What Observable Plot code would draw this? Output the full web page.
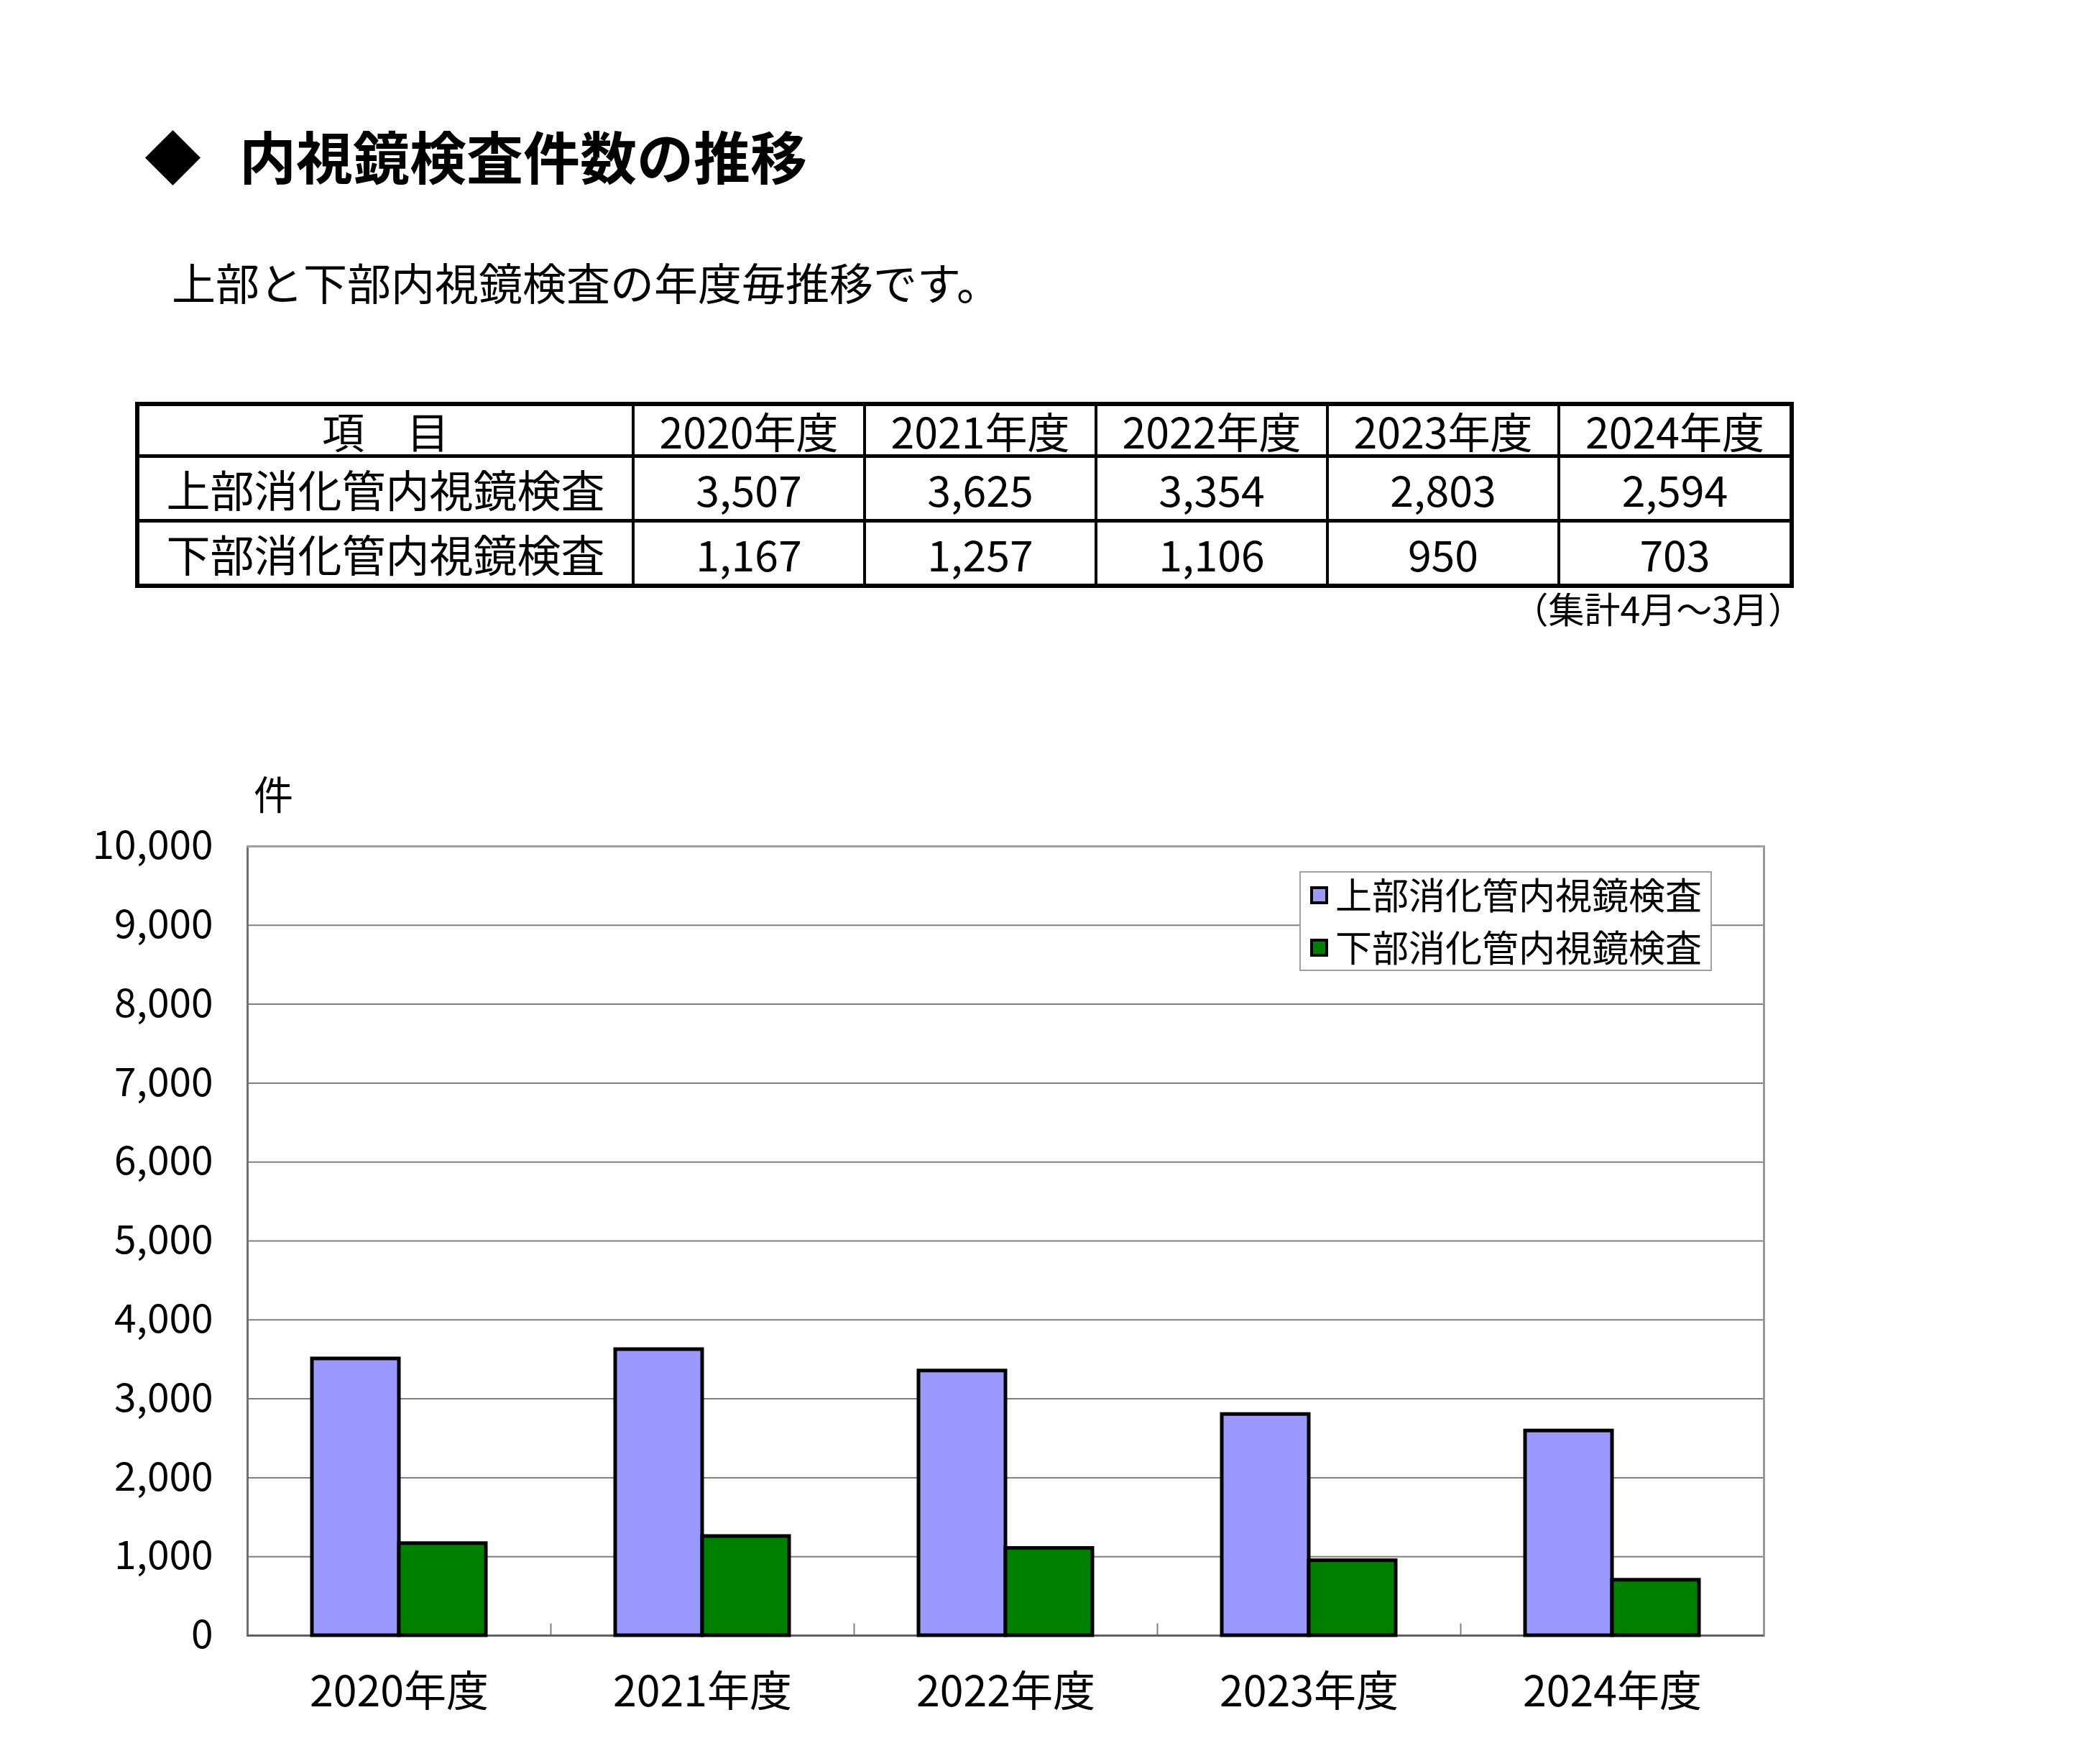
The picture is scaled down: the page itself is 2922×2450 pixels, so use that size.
<!DOCTYPE html>
<html><head><meta charset="utf-8">
<script src="https://cdn.jsdelivr.net/npm/d3@7"></script>
<script src="https://cdn.jsdelivr.net/npm/@observablehq/plot@0.6"></script>
<style>
html,body{margin:0;padding:0;background:#fff;}
body{width:2922px;height:2450px;position:relative;overflow:hidden;font-family:"Noto Sans CJK JP","Noto Sans",sans-serif;color:#000;}
.abs{position:absolute;white-space:nowrap;line-height:1;z-index:2;}
#diamond{left:201px;top:176px;font-size:79px;}
#title{left:333px;top:176px;font-size:79px;font-weight:bold;}
#subtitle{left:239px;top:361px;font-size:61px;}
#tbl{position:absolute;left:188px;top:559px;width:2302px;table-layout:fixed;border-collapse:collapse;border:6px solid #000;font-size:59px;}
#tbl td{border:4px solid #000;border-top-width:5px;border-bottom-width:5px;text-align:center;vertical-align:middle;padding:0;line-height:1;white-space:nowrap;overflow:visible;}
#tbl td.lab{font-size:61px;}
#note{right:412px;top:820px;font-size:50px;}
#unit{left:353px;top:1075px;font-size:55px;}
#chart{position:absolute;left:0;top:1090px;z-index:1;}
#legend{position:absolute;left:1808px;top:1212px;width:574px;height:139px;box-sizing:border-box;border:2px solid #a0a0a0;background:#fff;z-index:3;}
.sw{position:absolute;width:25px;height:25px;box-sizing:border-box;border:4px solid #000;}
.lt{position:absolute;font-size:51px;line-height:1;white-space:nowrap;}
</style>
</head><body>
<div class="abs" id="diamond">◆</div>
<div class="abs" id="title">内視鏡検査件数の推移</div>
<div class="abs" id="subtitle">上部と下部内視鏡検査の年度毎推移です。</div>
<table id="tbl"></table>
<div class="abs" id="note">（集計4月～3月）</div>
<div id="chart"></div>
<div class="abs" id="unit">件</div>
<div id="legend"></div>
<script>
const years = ["2020年度", "2021年度", "2022年度", "2023年度", "2024年度"];
const series = ["上部消化管内視鏡検査", "下部消化管内視鏡検査"];
const upper = [3507, 3625, 3354, 2803, 2594];
const lower = [1167, 1257, 1106, 950, 703];
const yTicks = [0, 1000, 2000, 3000, 4000, 5000, 6000, 7000, 8000, 9000, 10000];
const colors = ["#9999FF", "#008000"];
const headerLabel = "項　目";

const fmt = d3.format(",");

// Table
const tbl = document.getElementById("tbl");
const colW = [690, 322, 322, 322, 322, 324];
const cg = document.createElement("colgroup");
colW.forEach(w => { const c = document.createElement("col"); c.style.width = w + "px"; cg.appendChild(c); });
tbl.appendChild(cg);
const rowH = [72, 90, 91];
function addRow(cells, h, labelRow) {
  const tr = document.createElement("tr");
  tr.style.height = h + "px";
  cells.forEach((c, j) => {
    const td = document.createElement("td");
    td.textContent = c;
    if (j === 0 && labelRow) td.className = "lab";
    tr.appendChild(td);
  });
  tbl.appendChild(tr);
}
addRow([headerLabel, ...years], rowH[0], false);
addRow([series[0], ...upper.map(fmt)], rowH[1], true);
addRow([series[1], ...lower.map(fmt)], rowH[2], true);

// Legend
const lg = document.getElementById("legend");
series.forEach((s, i) => {
  const sw = document.createElement("div");
  sw.className = "sw";
  sw.style.left = "13px";
  sw.style.top = (19 + i * 73) + "px";
  sw.style.background = colors[i];
  lg.appendChild(sw);
  const t = document.createElement("div");
  t.className = "lt";
  t.style.left = "48px";
  t.style.top = (4 + i * 73) + "px";
  t.textContent = s;
  lg.appendChild(t);
});

// Chart
const data = years.flatMap((y, i) => [
  {year: y, series: series[0], value: upper[i]},
  {year: y, series: series[1], value: lower[i]}
]);

const W = 2922, H = 1360, mT = 87, mB = 175, mL = 343, mR = 467;
const plotH = H - mT - mB;

const chart = Plot.plot({
  width: W,
  height: H,
  marginTop: mT,
  marginBottom: mB,
  marginLeft: mL,
  marginRight: mR,
  style: {fontFamily: '"Noto Sans CJK JP", "Noto Sans", sans-serif', fontSize: "55px", color: "#000", background: "transparent"},
  fx: {domain: years, padding: 0, label: null},
  x: {domain: series, paddingInner: 0, paddingOuter: 0.73, axis: null},
  y: {domain: [0, 10000], label: null},
  color: {domain: series, range: colors},
  marks: [
    Plot.gridY(yTicks, {stroke: "#808080", strokeOpacity: 1, strokeWidth: 2}),
    Plot.frame({anchor: "left", insetTop: plotH - 16, stroke: "#808080", strokeWidth: 2}),
    Plot.frame({anchor: "left", fx: years[0], stroke: "#707070", strokeWidth: 3}),
    Plot.frame({anchor: "right", fx: years[years.length - 1], stroke: "#999999", strokeWidth: 3}),
    Plot.frame({anchor: "top", stroke: "#a0a0a0", strokeWidth: 3}),
    Plot.ruleY([0], {stroke: "#606060", strokeWidth: 3}),
    Plot.barY(data, {fx: "year", x: "series", y: "value", fill: "series", stroke: "#000", strokeWidth: 5}),
    Plot.axisY({ticks: yTicks, tickFormat: fmt, tickSize: 0, tickPadding: 48, fontSize: 55, label: null}),
    Plot.axisFx({anchor: "bottom", tickSize: 0, tickPadding: 57, fontSize: 59, label: null})
  ]
});
document.getElementById("chart").appendChild(chart);
</script>
</body></html>
